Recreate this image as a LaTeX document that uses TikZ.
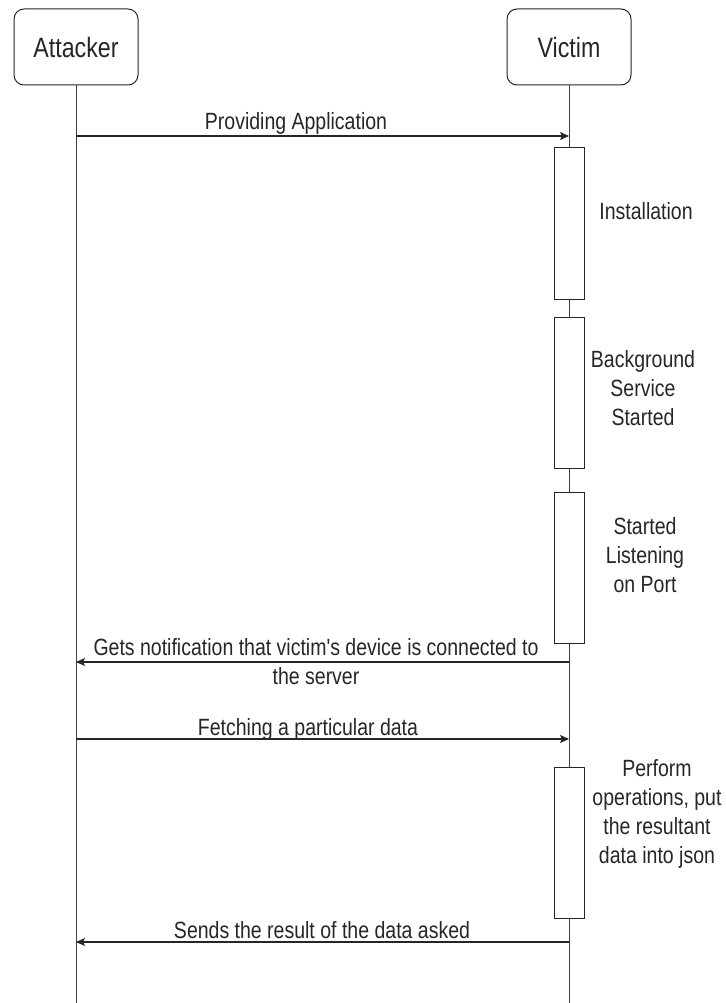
\documentclass[tikz,border=0pt]{standalone}
\usepackage{fontspec}
\setmainfont{Liberation Sans}
\usetikzlibrary{arrows.meta}
\newcommand{\nar}[1]{\scalebox{0.83}[1]{#1}}
\newcommand{\narml}[1]{\scalebox{0.83}[1]{\begin{tabular}{@{}c@{}}#1\end{tabular}}}
\begin{document}
\begin{tikzpicture}[x=1pt,y=-1pt,
  actor/.style={draw=black!85, line width=1pt, rounded corners=10pt, fill=white,
    minimum width=124pt, minimum height=76pt, inner sep=0pt,
    font=\fontsize{28}{34}\selectfont, text=black!85},
  actbox/.style={draw=black!85, fill=white, line width=1pt,
    minimum width=30pt, minimum height=151pt, inner sep=0pt},
  lbl/.style={font=\fontsize{23.5}{29}\selectfont, text=black!85, inner sep=0pt},
  msg/.style={draw=black!85, line width=1.2pt, -{Stealth[length=9pt,width=8pt,inset=2pt]}},
  life/.style={draw=black!75, line width=1pt}]
\useasboundingbox (0,0) rectangle (725,1003);

% actors
\node[actor] (att) at (76,47) {\nar{Attacker}};
\node[actor] (vic) at (569,47) {\nar{Victim}};
\coordinate (attEnd) at (76,1003);
\coordinate (vicEnd) at (569,1003);
\draw[life] (att.south) -- (attEnd);
\draw[life] (vic.south) -- (vicEnd);

% activation boxes
\node[actbox] (b1) at (569,223.5) {};
\node[actbox] (b2) at (569,392.5) {};
\node[actbox] (b3) at (569,567.5) {};
\node[actbox] (b4) at (569,842.5) {};

% activation labels
\node[lbl] (t1) at (646,211) {\nar{Installation}};
\node[lbl] (t2) at (643,390.5) {\narml{Background\\Service\\Started}};
\node[lbl] (t3) at (645,557.5) {\narml{Started\\Listening\\on Port}};
\node[lbl] (t4) at (657,814.5) {\narml{Perform\\operations, put\\the resultant\\data into json}};

% message endpoints
\coordinate (a1) at (76,136);  \coordinate (v1) at (569,136);
\coordinate (a2) at (76,662);  \coordinate (v2) at (569,662);
\coordinate (a3) at (76,739);  \coordinate (v3) at (569,739);
\coordinate (a4) at (76,942);  \coordinate (v4) at (569,942);

\draw[msg] (a1) -- (v1);
\draw[msg] (v2) -- (a2);
\draw[msg] (a3) -- (v3);
\draw[msg] (v4) -- (a4);

% message labels
\node[lbl] (m1) at (296,123) {\nar{Providing Application}};
\node[lbl] (m2) at (316,664.5) {\narml{Gets notification that victim\textquotesingle s device is connected to\\the server}};
\node[lbl] (m3) at (308,729) {\nar{Fetching a particular data}};
\node[lbl] (m4) at (322,930) {\nar{Sends the result of the data asked}};
\end{tikzpicture}
\end{document}
